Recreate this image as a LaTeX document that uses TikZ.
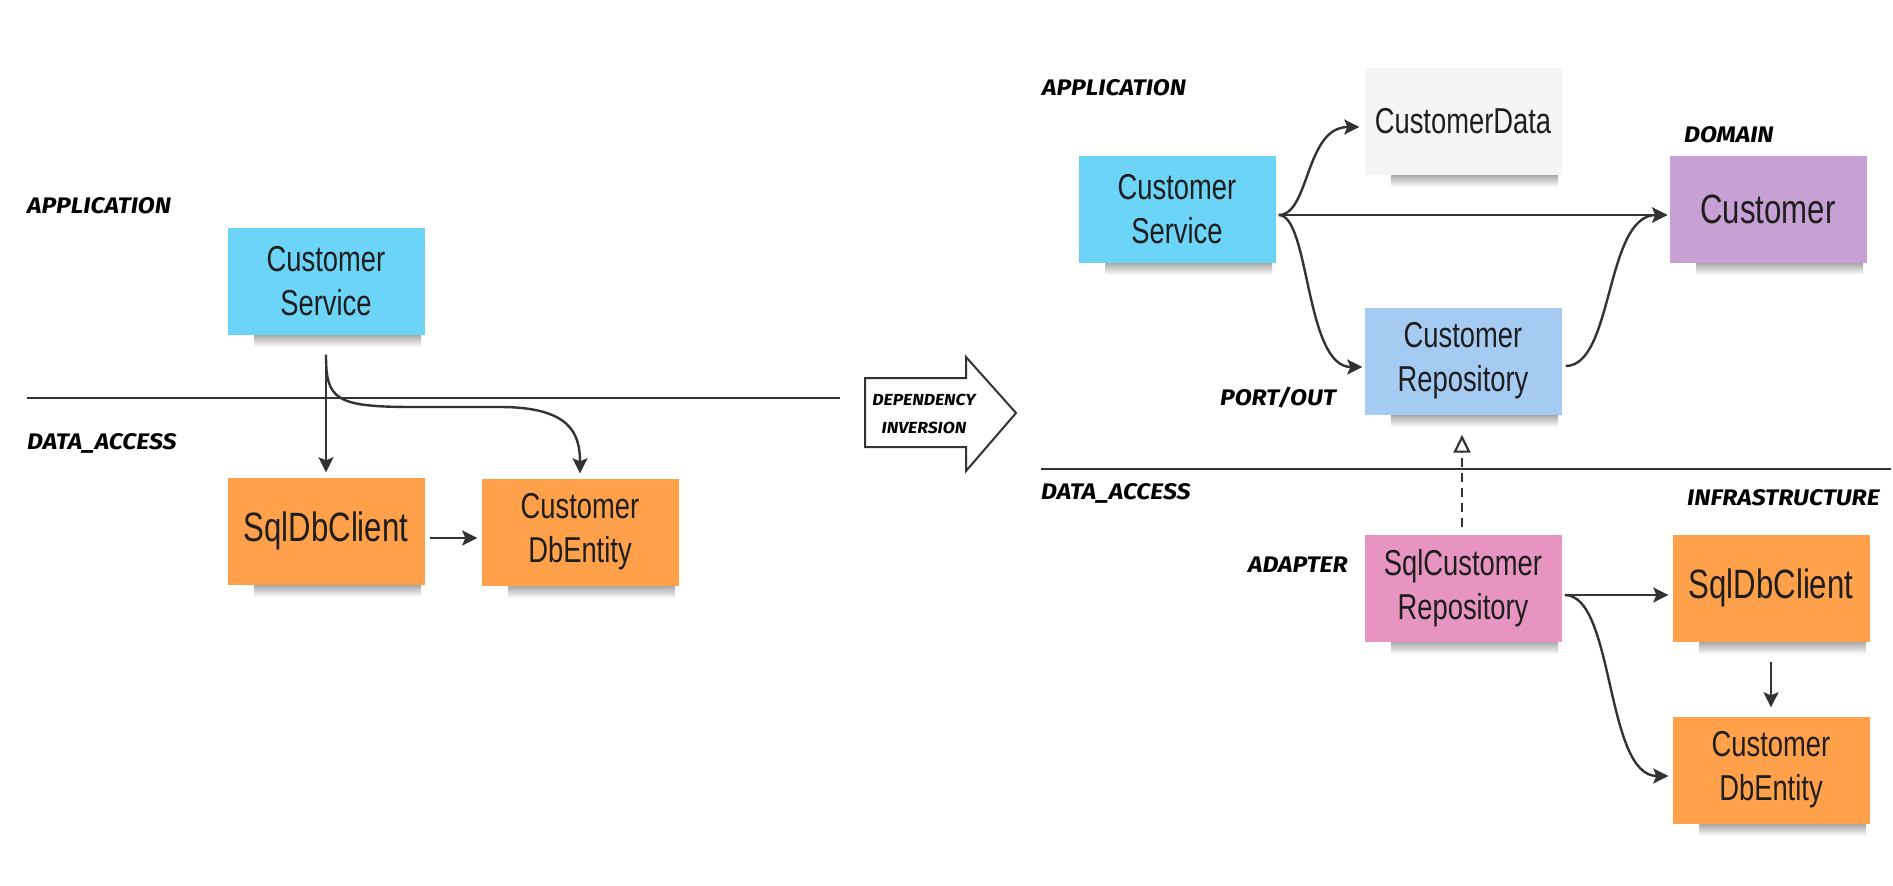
\documentclass[tikz,border=0pt]{standalone}
\usepackage{fontspec}
\setmainfont{Liberation Sans}
\newfontfamily\stickyfont{Liberation Sans}[FakeStretch=0.76]
\newfontfamily\labelfont{Fira Sans}[BoldItalicFeatures={FakeStretch=1.1}]
\usetikzlibrary{arrows.meta,calc}
\definecolor{ink}{RGB}{51,51,51}
\definecolor{textc}{RGB}{30,30,30}
\definecolor{cblue}{RGB}{108,212,246}
\definecolor{cgray}{RGB}{244,245,247}
\definecolor{cpurple}{RGB}{199,160,212}
\definecolor{crepo}{RGB}{166,203,243}
\definecolor{cpink}{RGB}{232,148,192}
\definecolor{corange}{RGB}{255,160,75}
\newcommand{\stickynote}[6][]{% [style] name, x, y, fill, text
  \shade[top color=black!40, bottom color=white] (#3-72,#4+52) rectangle (#3+95,#4+66);
  \node[sticky, fill=#5, #1] (#2) at (#3,#4) {#6};
}
\begin{document}
\begin{tikzpicture}[x=1pt,y=-1pt,
  line/.style={draw=ink, line width=2.4pt},
  arr/.style={line, -{Stealth[length=15pt,width=15pt,inset=3pt]}},
  sticky/.style={minimum width=197pt, minimum height=107pt, inner sep=0pt, align=center,
    font=\stickyfont\fontsize{36}{44}\selectfont, text=textc},
  big/.style={font=\stickyfont\fontsize{41}{48}\selectfont},
  lbl/.style={anchor=west, inner sep=0pt, font=\labelfont\bfseries\itshape\fontsize{22.5}{26}\selectfont, text=black},
  small/.style={inner sep=0pt, align=center, font=\labelfont\bfseries\itshape\fontsize{16}{28}\selectfont, text=black}
]
\useasboundingbox[fill=white] (0,0) rectangle (1893,886);

% ---------- left side ----------
\node[lbl] (lapp) at (27,206) {APPLICATION};
\node[lbl] (lda) at (27,443) {DATA\_ACCESS};
\coordinate (lineLa) at (27,398);
\coordinate (lineLb) at (840,398);
\draw[ink, line width=2.2pt] (lineLa) -- (lineLb);

\stickynote{csL}{326}{281}{cblue}{Customer\\Service}
\stickynote[big]{sqlL}{326}{531}{corange}{SqlDbClient}
\stickynote{dbeL}{580}{532}{corange}{Customer\\DbEntity}

\coordinate (csLout) at ($(csL.south)+(0,20)$);
\draw[arr] (csLout) -- ($(sqlL.north)+(0,-5)$);
\draw[arr] (csLout) .. controls +(0,45) and (335,407) .. (414,407)
  -- (500,407) .. controls (570,407) and ($(dbeL.north)+(0,-45)$) .. ($(dbeL.north)+(0,-5)$);
\draw[arr] ($(sqlL.east)+(5,7)$) -- ($(dbeL.west)+(-4,6)$);

% ---------- dependency inversion arrow ----------
\draw[ink, line width=2pt, fill=white, line join=miter]
  (865,378) -- (966,378) -- (966,357) -- (1016,413) -- (966,471) -- (966,447) -- (865,447) -- cycle;
\node[small] (dep) at (924,414) {DEPENDENCY\\INVERSION};

% ---------- right side ----------
\node[lbl] (rapp) at (1042,88) {APPLICATION};
\node[lbl] (rdom) at (1684,135) {DOMAIN};
\node[lbl] (rport) at (1220,398) {PORT/OUT};
\node[lbl] (rda) at (1041,493) {DATA\_ACCESS};
\node[lbl] (rinf) at (1687,498) {INFRASTRUCTURE};
\node[lbl] (rad) at (1248,565) {ADAPTER};
\coordinate (lineRa) at (1041,469);
\coordinate (lineRb) at (1891,469);
\draw[ink, line width=2.2pt] (lineRa) -- (lineRb);

\stickynote{csR}{1177}{209}{cblue}{Customer\\Service}
\stickynote{cdata}{1463}{121}{cgray}{CustomerData}
\stickynote[big]{cust}{1768}{209}{cpurple}{Customer}
\stickynote{repo}{1463}{361}{crepo}{Customer\\Repository}
\stickynote{sqlrepo}{1463}{588}{cpink}{SqlCustomer\\Repository}
\stickynote[big]{sqlR}{1771}{588}{corange}{SqlDbClient}
\stickynote{dbeR}{1771}{770}{corange}{Customer\\DbEntity}

\coordinate (csRout) at ($(csR.east)+(3,6)$);
\draw[arr] (csRout) .. controls +(31,0) and (1305,127) .. ($(cdata.west)+(-5,6)$);
\draw[arr] (csRout) -- ($(cust.west)+(-2,6)$);
\draw[arr] (csRout) .. controls +(31,0) and (1305,367) .. ($(repo.west)+(-2,6)$);
\draw[arr] ($(repo.east)+(4,5)$) .. controls +(48,0) and (1605,215) .. ($(cust.west)+(-2,6)$);

\draw[ink, line width=2.2pt, dash pattern=on 9pt off 6pt, -{Triangle[open,length=18pt,width=17pt]}]
  ($(sqlrepo.north)+(-1,-7)$) -- ($(repo.south)+(-1,20)$);

\coordinate (sqlrepoOut) at ($(sqlrepo.east)+(3,7)$);
\draw[arr] (sqlrepoOut) -- ($(sqlR.west)+(-4,7)$);
\draw[arr] (sqlrepoOut) .. controls +(50,0) and (1605,776) .. ($(dbeR.west)+(-4,6)$);
\draw[arr] ($(sqlR.south)+(0,20)$) -- ($(dbeR.north)+(0,-9)$);
\end{tikzpicture}
\end{document}
